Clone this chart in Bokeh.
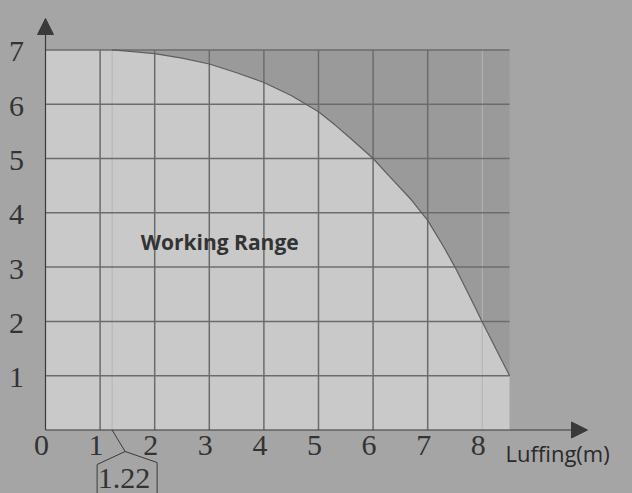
from bokeh.plotting import figure
from bokeh.models import Range1d, Arrow, NormalHead, GlobalInlineStyleSheet
from bokeh.core.properties import value
from bokeh.embed import file_html
from bokeh.resources import INLINE

# ---- data ----
curve_x = [1.22, 1.6, 2.0, 2.5, 3.0, 3.5, 4.0, 4.5, 5.0, 5.3, 5.6, 6.0, 6.3, 6.7,
           7.0, 7.3, 7.5, 7.75, 8.0, 8.25, 8.5]
curve_y = [7.0, 6.97, 6.93, 6.85, 6.74, 6.58, 6.4, 6.16, 5.86, 5.62, 5.36, 5.0, 4.67, 4.24,
           3.86, 3.36, 3.0, 2.5, 1.99, 1.49, 1.0]
x_ticks = [0, 1, 2, 3, 4, 5, 6, 7, 8]
x_tick_labels = ["0", "1", "2", "3", "4", "5", "6", "7", "8"]
y_ticks = [1, 2, 3, 4, 5, 6, 7]
y_tick_labels = ["1", "2", "3", "4", "5", "6", "7"]
x_max = 8.5
y_max = 7.0
marked_x = 1.22
marked_label = "1.22"
x_title = "Luffing(m)"
area_label = "Working Range"

# ---- geometry / style ----
W, H = 632, 493
XS, YS = 54.6, 54.3          # px per unit
X0, Y0 = 45.0, 429.5         # figure px of data origin
BG = "#a5a5a5"
DARK = "#9a9a9a"
LIGHT = "#c9c9c9"
GRID = "#6c6c6c"
INK = "#3a3a3a"
NUM_FONT = value("Liberation Serif")
SANS = value("Open Sans")

p = figure(width=W, height=H, output_backend="svg", toolbar_location=None,
           x_axis_type=None, y_axis_type=None,
           x_range=Range1d(-X0 / XS, (W - X0) / XS),
           y_range=Range1d(-(H - Y0) / YS, Y0 / YS),
           min_border=0, outline_line_color=None,
           background_fill_color=BG, border_fill_color=BG)
p.stylesheets = [GlobalInlineStyleSheet(css="html, body { background-color: %s; }" % BG)]

# regions
p.patch([0, 0, x_max, x_max], [0, y_max, y_max, 0], fill_color=DARK, line_color=None)
p.patch([0, 0] + curve_x + [x_max], [0, y_max] + curve_y + [0],
        fill_color=LIGHT, line_color=None)

# faint helper lines
p.segment(x0=[marked_x, 8], y0=[0, 0], x1=[marked_x, 8], y1=[curve_y[0], y_max],
          line_color="#b4b4b4", line_width=1)

# grid
vx = [t for t in x_ticks if 0 < t < 8]
p.segment(x0=vx, y0=[0] * len(vx), x1=vx, y1=[y_max] * len(vx),
          line_color=GRID, line_width=1.5)
p.segment(x0=[0] * len(y_ticks), y0=y_ticks, x1=[x_max] * len(y_ticks), y1=y_ticks,
          line_color=GRID, line_width=1.5)

# boundary curve
p.line(curve_x, curve_y, line_color="#5e5e5e", line_width=1.2)

# axes with arrows
p.add_layout(Arrow(end=NormalHead(size=16, fill_color=INK, line_color=INK),
                   x_start=0, y_start=0, x_end=0, y_end=(Y0 - 18) / YS,
                   line_color=INK, line_width=1.2))
p.add_layout(Arrow(end=NormalHead(size=16, fill_color=INK, line_color=INK),
                   x_start=0, y_start=0, x_end=(587 - X0) / XS, y_end=0,
                   line_color=INK, line_width=1.2))

# tick labels
p.text(x=x_ticks, y=[0] * len(x_ticks), text=x_tick_labels, x_offset=-4, y_offset=15,
       text_font=NUM_FONT, text_font_size="30px", text_color="#333333",
       text_align="center", text_baseline="middle")
p.text(x=[0] * len(y_ticks), y=y_ticks, text=y_tick_labels, x_offset=-29, y_offset=2,
       text_font=NUM_FONT, text_font_size="30px", text_color="#333333",
       text_align="center", text_baseline="middle")

# axis title
p.text(x=[x_max], y=[0], text=[x_title], x_offset=-4, y_offset=23,
       text_font=SANS, text_font_size="22px", text_color="#2a2a2a",
       text_align="left", text_baseline="middle")

# area label
p.text(x=[3.19], y=[3.47], text=[area_label],
       text_font=SANS, text_font_size="21px", text_font_style="bold",
       text_color="#333333", text_align="center", text_baseline="middle")

# 1.22 callout
ax = marked_x + 13 / XS
ay = -21.5 / YS
lx, ly = marked_x - 15 / XS, -34.5 / YS
rx, ry = marked_x + 45 / XS, -32.5 / YS
bot = -70 / YS
p.line([marked_x, ax], [0, ay], line_color=INK, line_width=1)
p.line([lx, lx, ax, rx, rx], [bot, ly, ay, ry, bot], line_color=INK, line_width=1)
p.text(x=[marked_x + 12 / XS], y=[-48.5 / YS], text=[marked_label],
       text_font=NUM_FONT, text_font_size="30px", text_color="#333333",
       text_align="center", text_baseline="middle")

open("out.html", "w").write(file_html(p, INLINE))
